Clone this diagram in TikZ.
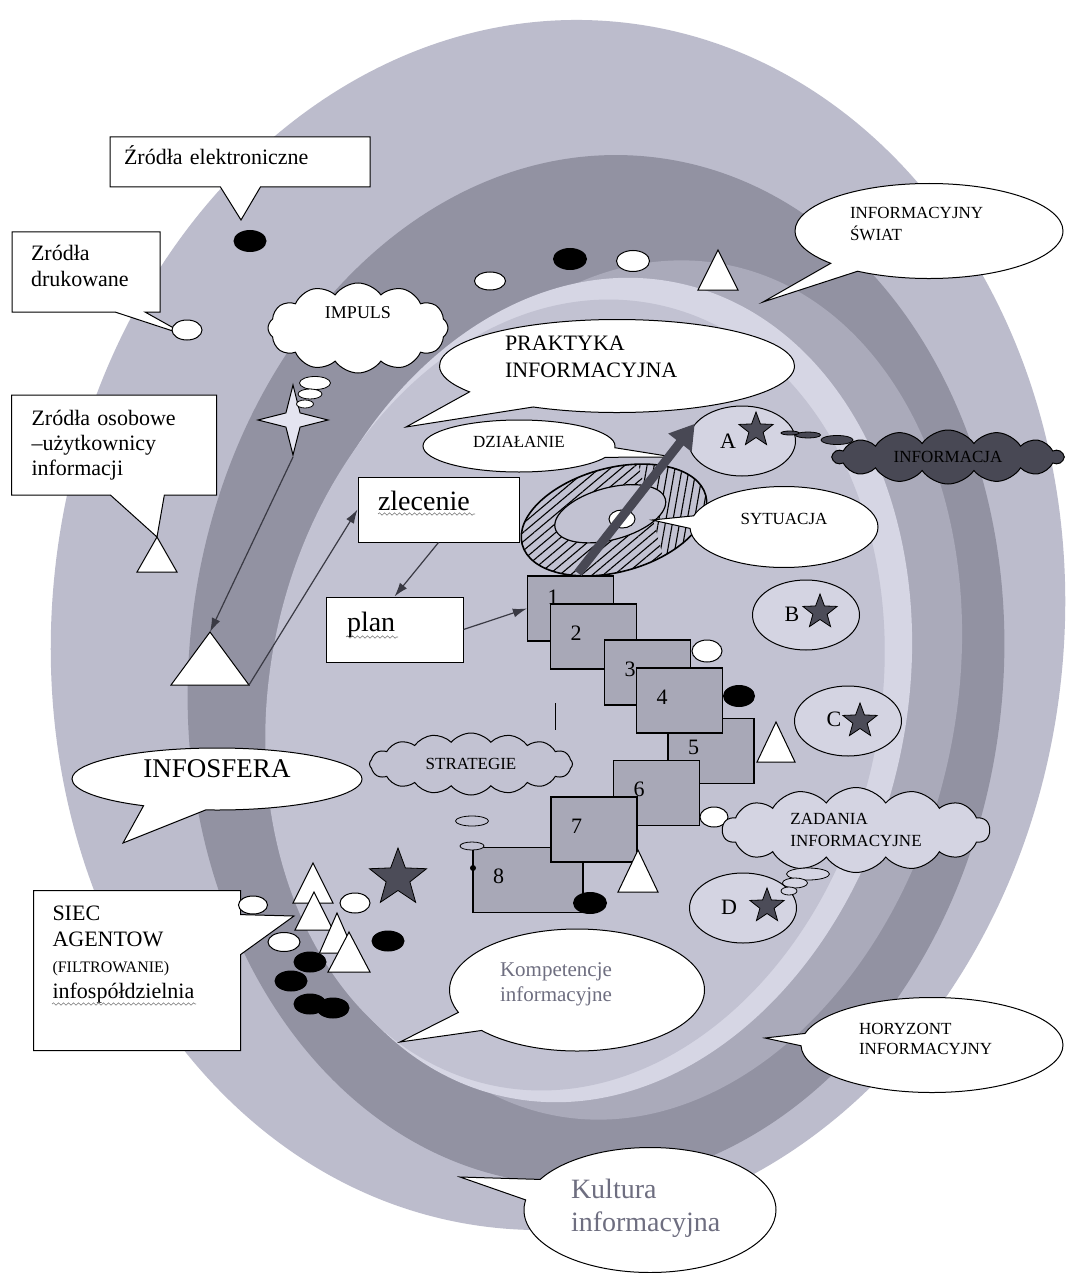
\documentclass[tikz,border=0pt]{standalone}
\usepackage{fontspec}
\setmainfont{Liberation Serif}
\usepackage{xcolor}
\usepackage{tikz}
\usetikzlibrary{arrows.meta,shapes,shapes.callouts,positioning,calc,patterns.meta,decorations.pathmorphing}

\definecolor{bandout}{RGB}{188,188,204}
\definecolor{banddark}{RGB}{146,146,162}
\definecolor{bandmid}{RGB}{170,170,186}
\definecolor{bandthin}{RGB}{214,214,228}
\definecolor{bandin}{RGB}{194,194,210}
\definecolor{numfill}{RGB}{168,168,183}
\definecolor{ovfill}{RGB}{212,212,226}
\definecolor{sparkfill}{RGB}{228,228,240}
\definecolor{stardark}{RGB}{76,76,88}
\definecolor{ink}{RGB}{58,58,68}
\definecolor{txtgray}{RGB}{110,110,128}
\definecolor{infodark}{RGB}{72,72,84}

\newcommand{\wtri}[4]{\draw[tri] ({#1-#3/2},{#2+#4}) -- (#1,#2) -- ({#1+#3/2},{#2+#4}) -- cycle;}

\begin{document}
\begin{tikzpicture}[x=1pt,y=-1pt,font=\fontsize{22}{26}\selectfont,
  rbox/.style={rectangle callout,draw,fill=white,line width=1pt,align=left},
  bub/.style={ellipse callout,draw,fill=white,line width=1pt,align=left},
  captxt/.style={font=\fontsize{17}{22}\selectfont},
  puff/.style={cloud,draw,line width=1pt,cloud puffs=12,cloud puff arc=110,
               cloud ignores aspect,align=left},
  bubl/.style={ellipse,draw,line width=0.8pt,inner sep=0pt},
  numbox/.style={rectangle,draw,fill=numfill,line width=1.2pt,minimum width=86pt,
                 minimum height=65pt,inner xsep=20pt,text width=46pt,align=left,text depth=7pt},
  txtbox/.style={rectangle,draw,fill=white,line width=1pt,align=left,
                 font=\fontsize{28}{32}\selectfont},
  oval/.style={ellipse,draw,fill=white,line width=1pt,inner sep=0pt},
  blk/.style={ellipse,fill=black,inner sep=0pt},
  tri/.style={draw,fill=white,line width=1pt},
  lcirc/.style={ellipse,draw,fill=ovfill,line width=1pt,minimum width=107pt,minimum height=70pt},
  dstar/.style={star,star points=5,star point ratio=2.4,draw,fill=stardark,
                line width=0.8pt,minimum size=36pt,inner sep=0pt},
  arr/.style={draw=ink,line width=1.2pt,-{Latex[length=14pt,width=9pt]}},
  fat/.style={draw=infodark,line width=9pt,-{Triangle[length=24pt,width=28pt]}},
  wavy/.style={draw=gray,line width=0.6pt,decorate,
               decoration={snake,amplitude=1.2pt,segment length=5pt}}]

  \fill[white] (0,0) rectangle (1069,1273);
  \useasboundingbox (0,0) rectangle (1069,1273);
  \fill[bandout,rotate around={-6:(558,625)}] (558,625) ellipse [x radius=506,y radius=606];
  \fill[banddark,rotate around={-6:(596,670)}] (596,670) ellipse [x radius=407,y radius=516];
  \fill[bandmid,rotate around={-12:(640,690)}] (640,690) ellipse [x radius=316,y radius=434];
  \fill[bandthin,rotate around={-12:(592,690)}] (592,690) ellipse [x radius=315,y radius=416];
  \fill[bandin,rotate around={-12:(575,695)}] (575,695) ellipse [x radius=305,y radius=399];

  \node[rbox,minimum width=260pt,minimum height=50pt,inner xsep=14pt,text width=232pt,text depth=14pt,
        callout absolute pointer={(241,220)},callout pointer width=40pt] (elek) at (240,162) {Źródła elektroniczne};
  \node[rbox,minimum width=148pt,minimum height=80pt,inner xsep=19pt,text width=110pt,text depth=39pt,
        callout absolute pointer={(188,336)},callout pointer width=30pt] (druk) at (86,272) {Zródła\\drukowane};
  \node[rbox,minimum width=205pt,minimum height=100pt,inner xsep=20pt,text width=165pt,text depth=54pt,
        font=\fontsize{22}{25}\selectfont,callout absolute pointer={(157,537)},
        callout pointer width=54pt] (osob) at (114,445) {Zródła osobowe\\–użytkownicy\\informacji};

  \node[blk,minimum width=33pt,minimum height=22pt] (k1) at (250,241) {};
  \node[oval,minimum width=30pt,minimum height=20pt] (w1) at (187,330) {};
  \node[oval,minimum width=31pt,minimum height=18pt] (w2) at (490,281) {};
  \node[blk,minimum width=34pt,minimum height=22pt] (k2) at (570,259) {};
  \node[oval,minimum width=33pt,minimum height=21pt] (w3) at (633,261) {};
  \wtri{718}{250}{40}{40}
  \wtri{157}{537}{40}{35}

  \node[bub,captxt,minimum width=268pt,minimum height=95pt,text width=158pt,text depth=36pt,
        callout absolute pointer={(763,302)}] (swiat) at (929,231) {INFORMACYJNY\\ŚWIAT};

  \node[star,star points=4,star point ratio=3.5,draw,fill=sparkfill,line width=1pt,
        minimum size=70pt,inner sep=0pt] (spark) at (293,420) {};
  \node[puff,fill=white,minimum width=180pt,minimum height=90pt,inner sep=0pt,text depth=30pt,
        font=\fontsize{18}{22}\selectfont] (imp) at (358,328) {IMPULS};
  \node[bubl,fill=white,minimum width=31pt,minimum height=13pt] (ib1) at (315,383) {};
  \node[bubl,fill=white,minimum width=24pt,minimum height=10pt] (ib2) at (310,394) {};
  \node[bubl,fill=white,minimum width=17pt,minimum height=8pt] (ib3) at (305,404) {};

  \node[bub,minimum width=355pt,minimum height=93pt,text width=224pt,inner ysep=0pt,text depth=45pt,
        font=\fontsize{22}{27}\selectfont,callout absolute pointer={(406,427)},
        callout pointer arc=28] (prak) at (617,366) {PRAKTYKA\\INFORMACYJNA};
  \node[bub,captxt,minimum width=192pt,minimum height=52pt,text depth=8pt,
        callout absolute pointer={(673,457)},callout pointer arc=22] (dzial) at (519,446) {DZIAŁANIE};

  \begin{scope}[rotate around={15:(614,520)}]
    \begin{scope}
      \clip (614,520) ellipse [x radius=95,y radius=52];
      \fill[pattern={Lines[angle=40,distance=7pt,line width=1.1pt]}] (500,450) rectangle (652,600);
      \fill[pattern={Lines[angle=80,distance=7pt,line width=1.1pt]}] (652,450) rectangle (730,600);
    \end{scope}
    \draw[line width=1.6pt] (614,520) ellipse [x radius=95,y radius=52];
    \filldraw[fill=bandin,line width=1.2pt] (612,513) ellipse [x radius=57,y radius=26];
  \end{scope}
  \node[oval,minimum width=26pt,minimum height=18pt] (hub) at (622,519) {};

  \node[txtbox,minimum width=161pt,minimum height=65pt,inner xsep=20pt,text width=121pt,
        text depth=18pt] (zl) at (438.5,509.5) {zlecenie};
  \node[txtbox,minimum width=137pt,minimum height=65pt,inner xsep=21pt,text width=95pt,
        text depth=16pt] (plan) at (394.5,629.5) {plan};

  \node[numbox,text depth=23pt] (b1) at (570.5,608.5) {1};
  \node[numbox] (b2) at (593.5,636.5) {2};
  \node[numbox] (b3) at (647.5,672.5) {3};
  \node[numbox] (b5) at (711,751) {5};
  \node[numbox] (b4) at (679.5,700.5) {4};
  \node[numbox,minimum width=110pt,text width=70pt] (b8) at (528,880) {8};
  \node[numbox] (b6) at (656.5,793) {6};
  \node[numbox] (b7) at (594,829.5) {7};
  \draw[line width=1pt] (555,703) -- (555,730);
  \node[circle,fill=black,inner sep=0pt,minimum size=6pt] (d8) at (473,868) {};

  \coordinate (tA) at (210,632);
  \coordinate (tR) at (249,685);
  \wtri{210}{632}{78}{53}
  \draw[arr] (spark.south) -- (tA);
  \draw[arr] (tR) -- (zl.west);
  \draw[arr] (zl.south) -- (plan.north);
  \draw[arr] (plan.east) -- (b1.west);

  \node[oval,minimum width=30pt,minimum height=22pt] (w4) at (707,651) {};
  \node[blk,minimum width=32pt,minimum height=22pt] (k3) at (739,696) {};
  \wtri{776}{722}{38}{40}
  \node[oval,minimum width=28pt,minimum height=20pt] (w5) at (714,817) {};
  \wtri{638}{850}{40}{42}
  \node[blk,minimum width=34pt,minimum height=22pt] (k4) at (590,903) {};

  \foreach \n/\x/\y/\lx/\ly/\sx/\sy in {A/742/441/728/441/756/430,B/806/615/792/614/820/612,
                                        C/848/721/834/719/860/721,D/743/908/729/907/767/906}{
    \node[lcirc] (c\n) at (\x,\y) {};
    \node[inner sep=0pt] (l\n) at (\lx,\ly) {\n};
    \node[dstar] (s\n) at (\sx,\sy) {};
  }

  \coordinate (foot) at (578,573);
  \draw[fat] (foot) -- (cA.160);

  \node[puff,fill=infodark,captxt,minimum width=230pt,minimum height=54pt,cloud puffs=14] (infc) at (948,457) {INFORMACJA};
  \node[bubl,fill=infodark,minimum width=32pt,minimum height=9pt] (fb1) at (837,440) {};
  \node[bubl,fill=infodark,minimum width=25pt,minimum height=6pt] (fb2) at (808,435) {};
  \node[bubl,fill=infodark,minimum width=18pt,minimum height=4pt] (fb3) at (790,433) {};
  \node[bub,captxt,minimum width=188pt,minimum height=81pt,text depth=16pt,
        callout absolute pointer={(652,520)},callout pointer arc=18] (sytu) at (784,527) {SYTUACJA};

  \node[puff,fill=bandin,captxt,minimum width=203pt,minimum height=62pt,cloud puffs=16,
        cloud puff arc=100] (strat) at (471,764) {STRATEGIE};
  \node[bubl,fill=bandin,minimum width=33pt,minimum height=10pt] (sb1) at (472,821) {};
  \node[bubl,fill=bandin,minimum width=24pt,minimum height=8pt] (sb2) at (472,846) {};

  \node[puff,fill=ovfill,captxt,minimum width=267pt,minimum height=85pt,cloud puffs=14] (zad) at (856,830) {ZADANIA\\INFORMACYJNE};
  \node[bubl,fill=ovfill,minimum width=43pt,minimum height=12pt] (zb1) at (808,874) {};
  \node[bubl,fill=ovfill,minimum width=25pt,minimum height=10pt] (zb2) at (795,883) {};
  \node[bubl,fill=ovfill,minimum width=16pt,minimum height=8pt] (zb3) at (789,891) {};

  \node[bub,minimum width=290pt,minimum height=62pt,inner ysep=0pt,text depth=20pt,
        font=\fontsize{27}{32}\selectfont,callout absolute pointer={(123,843)},
        callout pointer arc=26] (infos) at (217,779) {INFOSFERA};
  \node[bub,minimum width=255pt,minimum height=122pt,text width=154pt,text depth=41pt,text=txtgray,
        font=\fontsize{21}{25}\selectfont,callout absolute pointer={(400,1042)},
        callout pointer arc=20] (komp) at (577,990) {Kompetencje\\informacyjne};
  \node[bub,minimum width=262pt,minimum height=95pt,text width=146pt,text depth=32pt,
        font=\fontsize{17}{20}\selectfont,callout absolute pointer={(765,1038)}] (hory) at (932,1045) {HORYZONT\\INFORMACYJNY};
  \node[bub,minimum width=252pt,minimum height=125pt,text width=158pt,text depth=43pt,text=txtgray,
        font=\fontsize{28}{33}\selectfont,callout absolute pointer={(460,1177)},
        callout pointer arc=20] (kult) at (650,1210) {Kultura\\informacyjna};

  \node[rbox,anchor=north west,minimum width=207pt,minimum height=160pt,inner xsep=19pt,text width=169pt,
        text depth=115pt,callout absolute pointer={(294,916)},callout pointer width=40pt] (siec) at (33,890)
        {SIEC\\AGENTOW\\{\fontsize{16}{26}\selectfont(FILTROWANIE)}\\infospółdzielnia};

  \node[oval,minimum width=29pt,minimum height=18pt] (w6) at (253,905) {};
  \node[oval,minimum width=30pt,minimum height=20pt] (w7) at (355,903) {};
  \node[oval,minimum width=32pt,minimum height=19pt] (w8) at (284,942) {};
  \node[dstar,minimum size=60pt] (s0) at (398,878) {};
  \foreach \x/\y [count=\i] in {388/941,310/962,291/981,310/1004,333/1008}
    \node[blk,minimum width=33pt,minimum height=21pt] (kb\i) at (\x,\y) {};
  \foreach \x/\y/\w/\h in {313/863/40/40,314/892/38/38,337/913/35/40,349/932/42/40}
    {\wtri{\x}{\y}{\w}{\h}}

  \draw[wavy] (378,514) -- (475,514);
  \draw[wavy] (346,637) -- (398,637);
  \draw[wavy] (52,1004) -- (196,1004);
\end{tikzpicture}
\end{document}
